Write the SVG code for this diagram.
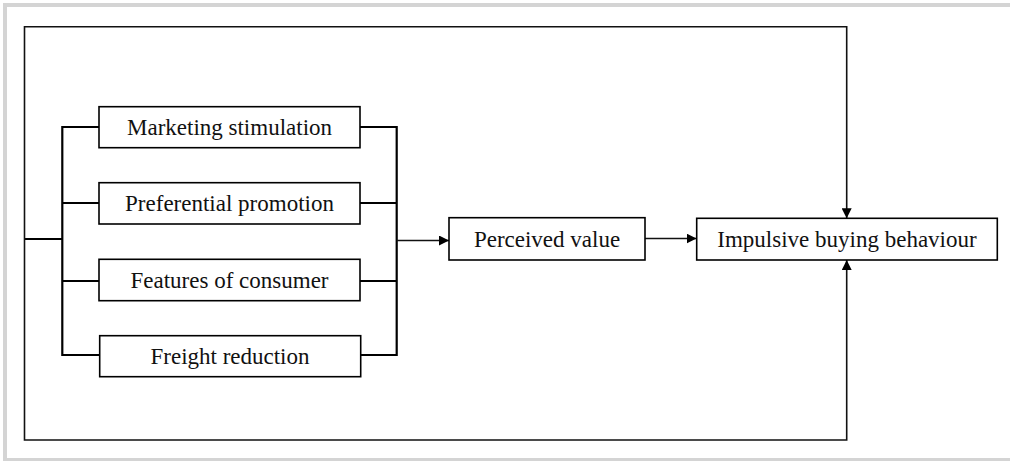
<svg xmlns="http://www.w3.org/2000/svg" width="1010" height="461" viewBox="0 0 1010 461">
<defs>
<style>
.frame{fill:none;stroke:#d4d4d4;stroke-width:4}
.box{fill:#fff;stroke:#000;stroke-width:1.6}
.txt{font-family:"Liberation Serif","Times New Roman",serif;font-size:23px;fill:#111;text-anchor:middle;dominant-baseline:central}
.br{fill:none;stroke:#000;stroke-width:2.2}
.loop{fill:none;stroke:#111;stroke-width:1.6}
.ar{fill:none;stroke:#111;stroke-width:1.6}
</style>
<marker id="ah" viewBox="0 0 10 10" refX="10" refY="5" markerWidth="10" markerHeight="10" markerUnits="userSpaceOnUse" orient="auto">
<path d="M0,0 L10,5 L0,10 z" fill="#000"/>
</marker>
</defs>
<rect class="frame" x="5" y="5" width="1010" height="455"/>
<g id="connectors">
<path class="br" d="M24.5,239 H62.3"/>
<path class="br" d="M99,127 H62.3 V355 H99"/>
<path class="br" d="M62.3,203 H99"/>
<path class="br" d="M62.3,281 H99"/>
<path class="br" d="M360,127 H396.7 V355 H360"/>
<path class="br" d="M360,203 H396.7"/>
<path class="br" d="M360,281 H396.7"/>
<path class="ar" d="M396.7,240.5 H449" marker-end="url(#ah)"/>
<path class="ar" d="M645,238.5 H696.5" marker-end="url(#ah)"/>
<path class="loop" d="M24.5,239 V26.7 H846.7 V218.3" marker-end="url(#ah)"/>
<path class="loop" d="M24.5,239 V440 H846.7 V260" marker-end="url(#ah)"/>
</g>
<g id="node-marketing">
<rect class="box" x="99" y="106.7" width="261" height="41"/>
<text class="txt" x="229.5" y="127.5">Marketing stimulation</text>
</g>
<g id="node-preferential">
<rect class="box" x="99" y="182.7" width="261" height="41.3"/>
<text class="txt" x="229.5" y="203.5">Preferential promotion</text>
</g>
<g id="node-features">
<rect class="box" x="99" y="259.3" width="261" height="41.4"/>
<text class="txt" x="229.5" y="280">Features of consumer</text>
</g>
<g id="node-freight">
<rect class="box" x="99.7" y="335.7" width="261" height="41"/>
<text class="txt" x="230" y="356">Freight reduction</text>
</g>
<g id="node-perceived">
<rect class="box" x="449" y="217.7" width="196" height="42.3"/>
<text class="txt" x="547" y="239">Perceived value</text>
</g>
<g id="node-impulsive">
<rect class="box" x="696.7" y="218.3" width="300.6" height="41.7"/>
<text class="txt" x="847" y="239">Impulsive buying behaviour</text>
</g>
</svg>
